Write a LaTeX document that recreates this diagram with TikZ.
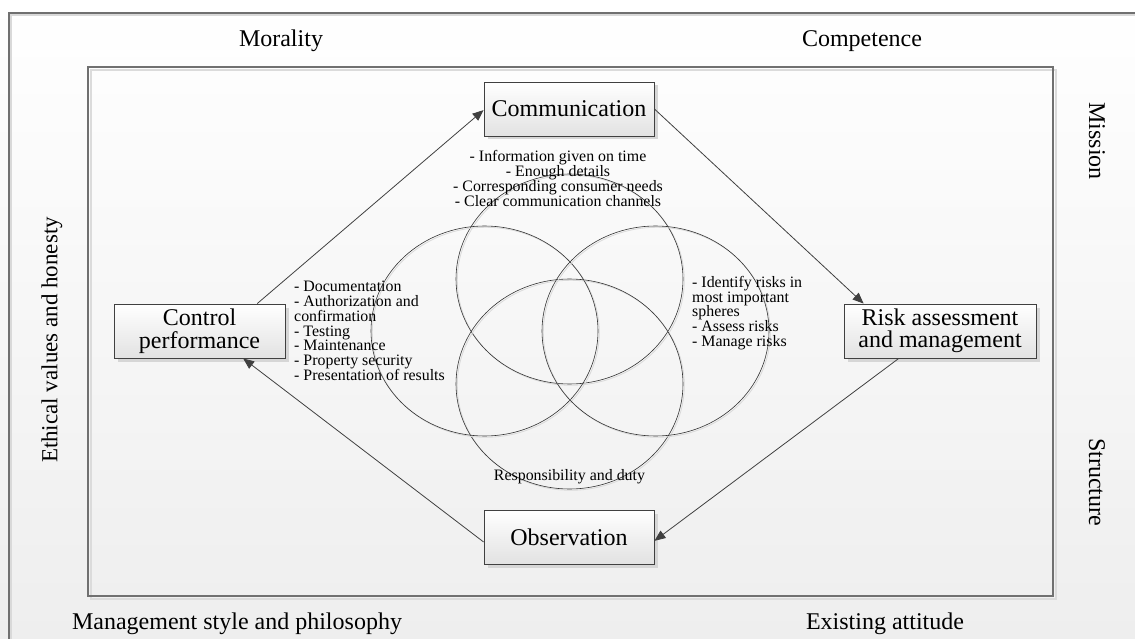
\documentclass[tikz,border=0pt]{standalone}
\usepackage{fontspec}
\setmainfont{Liberation Serif}
\usetikzlibrary{arrows.meta,calc,shadows}

\definecolor{edge}{RGB}{64,64,64}
\definecolor{frame}{RGB}{112,112,112}
\definecolor{bglow}{RGB}{238,238,238}
\definecolor{boxlow}{RGB}{226,226,226}

\begin{document}
\begin{tikzpicture}[x=1pt,y=-1pt,
  lbl/.style={font=\fontsize{24}{26}\selectfont, inner sep=0pt},
  stage/.style={draw=edge, line width=0.9pt, top color=white, bottom color=boxlow,
    minimum height=54pt, inner sep=0pt, align=center,
    font=\fontsize{24}{22.5}\selectfont,
    drop shadow={shadow xshift=3.5pt, shadow yshift=-3.5pt, fill=black!16, opacity=1}},
  notes/.style={font=\fontsize{15.9}{14.8}\selectfont, inner sep=0pt},
  link/.style={draw=edge, line width=0.8pt, -{Triangle[length=11pt,width=9pt]}},
  ring/.style={draw=black!80, line width=0.6pt},
  ringshade/.style={draw=black!15, line width=0.8pt}]

% page area and soft vertical background
\clip (0,0) rectangle (1135,639);
\shade[top color=white, bottom color=bglow] (0,0) rectangle (1135,639);

% outer frame (runs off the page on the right and bottom)
\draw[black!15, line width=1.5pt] (11,652) -- (11,15) -- (1147,15);
\draw[frame, line width=1.2pt] (9,652) -- (9,13) -- (1147,13);

% inner frame
\draw[black!14, line width=2pt] (91,70) rectangle (1056,599);
\draw[frame, line width=1.1pt] (88,67) rectangle (1053,596);

% four overlapping rings
\foreach \cx/\cy in {569.5/279, 569.5/384, 484.5/331, 655.5/331}{
  \draw[ringshade] (\cx+1.3,\cy+1.3) ellipse [x radius=113.5pt, y radius=105pt];
  \draw[ring] (\cx,\cy) ellipse [x radius=113.5pt, y radius=105pt];
}

% process stages
\node[stage, minimum width=170pt] (comm) at (569,109) {Communication};
\node[stage, minimum width=171pt] (ctrl) at (199.5,331) {Control\\performance};
\node[stage, minimum width=192pt] (risk) at (940,331) {Risk assessment\\and management};
\node[stage, minimum width=170pt] (obs) at (569,537) {Observation};

% cycle connectors
\draw[link] ($(ctrl.north west)!0.836!(ctrl.north east)$) -- ($(comm.north west)!0.52!(comm.south west)$);
\draw[link] (comm.east) -- ($(risk.north west)!0.104!(risk.north east)$);
\draw[link] ($(risk.south west)!0.286!(risk.south east)$) -- ($(obs.north east)!0.57!(obs.south east)$);
\draw[link] ($(obs.north west)!0.59!(obs.south west)$) -- ($(ctrl.south west)!0.754!(ctrl.south east)$);

% notes inside the rings
\node[notes, align=center] (commnotes) at (558,178.5)
  {- Information given on time\\- Enough details\\- Corresponding consumer needs\\- Clear communication channels};
\node[notes, align=left, anchor=west] (ctrlnotes) at (294,331)
  {- Documentation\\- Authorization and\\confirmation\\- Testing\\- Maintenance\\- Property security\\- Presentation of results};
\node[notes, align=left, anchor=west] (risknotes) at (692,313)
  {- Identify risks in\\most important\\spheres\\- Assess risks\\- Manage risks};
\node[notes] (duty) at (569.5,477) {Responsibility and duty};

% surrounding factors
\node[lbl] (moral) at (281,41) {Morality};
\node[lbl] (compet) at (862,41) {Competence};
\node[lbl, rotate=-90] (mission) at (1097,141) {Mission};
\node[lbl, rotate=-90] (struct) at (1097,482) {Structure};
\node[lbl, rotate=90, font=\fontsize{23}{25}\selectfont] (ethic) at (52,340) {Ethical values and honesty};
\node[lbl] (mgmt) at (237,624) {Management style and philosophy};
\node[lbl] (attit) at (885,624) {Existing attitude};
\end{tikzpicture}
\end{document}
